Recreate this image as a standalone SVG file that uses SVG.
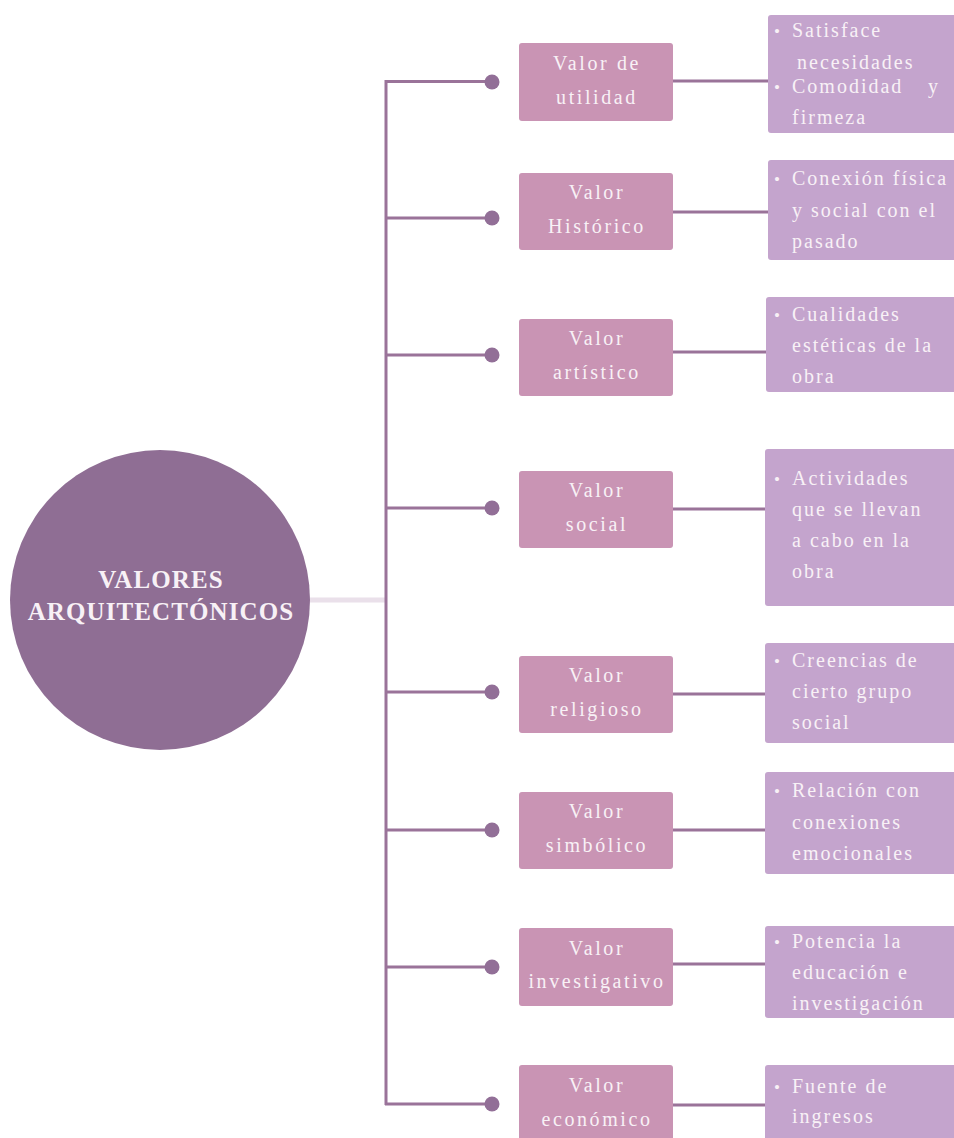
<svg xmlns="http://www.w3.org/2000/svg" width="954" height="1138" viewBox="0 0 954 1138">
<style>
.mid{fill:#c994b4;}
.det{fill:#c4a4cd;}
.ln{stroke:#9a7399;stroke-width:3;fill:none;}
.dot{fill:#926f97;}
.mt{font-family:"Liberation Serif",serif;font-size:20px;fill:#f8f1f6;letter-spacing:2.6px;text-anchor:middle;}
.rt{font-family:"Liberation Serif",serif;font-size:20px;fill:#f8f1f6;letter-spacing:2px;}
.bu{font-family:"Liberation Serif",serif;font-size:17px;fill:#f8f1f6;}
.ct{font-family:"Liberation Serif",serif;font-size:25px;font-weight:bold;fill:#f8f1f6;letter-spacing:1.1px;text-anchor:middle;}
</style>
<rect width="954" height="1138" fill="#ffffff"/>
<g id="connectors">
<line x1="308" y1="600" x2="386" y2="600" stroke="#eae0ea" stroke-width="5"/>
<line class="ln" x1="386" y1="80" x2="386" y2="1105"/>
<line class="ln" x1="385" y1="81.5" x2="492" y2="81.5"/>
<line class="ln" x1="385" y1="218" x2="492" y2="218"/>
<line class="ln" x1="385" y1="355" x2="492" y2="355"/>
<line class="ln" x1="385" y1="508" x2="492" y2="508"/>
<line class="ln" x1="385" y1="692" x2="492" y2="692"/>
<line class="ln" x1="385" y1="830" x2="492" y2="830"/>
<line class="ln" x1="385" y1="967" x2="492" y2="967"/>
<line class="ln" x1="385" y1="1104" x2="492" y2="1104"/>
<circle class="dot" cx="492" cy="82" r="7.5"/>
<circle class="dot" cx="492" cy="218" r="7.5"/>
<circle class="dot" cx="492" cy="355" r="7.5"/>
<circle class="dot" cx="492" cy="508" r="7.5"/>
<circle class="dot" cx="492" cy="692" r="7.5"/>
<circle class="dot" cx="492" cy="830" r="7.5"/>
<circle class="dot" cx="492" cy="967" r="7.5"/>
<circle class="dot" cx="492" cy="1104" r="7.5"/>
<line class="ln" x1="673" y1="81" x2="768" y2="81"/>
<line class="ln" x1="673" y1="212" x2="768" y2="212"/>
<line class="ln" x1="673" y1="352" x2="767" y2="352"/>
<line class="ln" x1="673" y1="509" x2="766" y2="509"/>
<line class="ln" x1="673" y1="694" x2="766" y2="694"/>
<line class="ln" x1="673" y1="830" x2="766" y2="830"/>
<line class="ln" x1="673" y1="964" x2="766" y2="964"/>
<line class="ln" x1="673" y1="1105" x2="766" y2="1105"/>
</g>
<g id="center">
<circle cx="160" cy="600" r="150" fill="#8f6e94"/>
<text class="ct" x="161" y="588">VALORES</text>
<text class="ct" x="161" y="620">ARQUITECTÓNICOS</text>
</g>
<g id="n1">
<rect class="mid" x="519" y="43" width="154" height="78" rx="3"/>
<text class="mt" x="597" y="70">Valor de</text>
<text class="mt" x="597" y="104">utilidad</text>
</g>
<g id="d1">
<rect class="det" x="768" y="15" width="200" height="118" rx="3"/>
<text class="bu" x="774" y="37">•</text>
<text class="rt" x="792" y="37">Satisface</text>
<text class="rt" x="797" y="69">necesidades</text>
<text class="bu" x="774" y="93">•</text>
<text class="rt" x="792" y="93">Comodidad <tspan x="928">y</tspan></text>
<text class="rt" x="792" y="124">firmeza</text>
</g>
<g id="n2">
<rect class="mid" x="519" y="173" width="154" height="77" rx="3"/>
<text class="mt" x="597" y="199">Valor</text>
<text class="mt" x="597" y="233">Histórico</text>
</g>
<g id="d2">
<rect class="det" x="768" y="160" width="200" height="100" rx="3"/>
<text class="bu" x="774" y="185">•</text>
<text class="rt" x="792" y="185">Conexión física</text>
<text class="rt" x="792" y="217">y social con el</text>
<text class="rt" x="792" y="248">pasado</text>
</g>
<g id="n3">
<rect class="mid" x="519" y="319" width="154" height="77" rx="3"/>
<text class="mt" x="597" y="345">Valor</text>
<text class="mt" x="597" y="379">artístico</text>
</g>
<g id="d3">
<rect class="det" x="766" y="297" width="200" height="95" rx="3"/>
<text class="bu" x="774" y="321">•</text>
<text class="rt" x="792" y="321">Cualidades</text>
<text class="rt" x="792" y="352">estéticas de la</text>
<text class="rt" x="792" y="383">obra</text>
</g>
<g id="n4">
<rect class="mid" x="519" y="471" width="154" height="77" rx="3"/>
<text class="mt" x="597" y="497">Valor</text>
<text class="mt" x="597" y="531">social</text>
</g>
<g id="d4">
<rect class="det" x="765" y="449" width="200" height="157" rx="3"/>
<text class="bu" x="774" y="485">•</text>
<text class="rt" x="792" y="485">Actividades</text>
<text class="rt" x="792" y="516">que se llevan</text>
<text class="rt" x="792" y="547">a cabo en la</text>
<text class="rt" x="792" y="578">obra</text>
</g>
<g id="n5">
<rect class="mid" x="519" y="656" width="154" height="77" rx="3"/>
<text class="mt" x="597" y="682">Valor</text>
<text class="mt" x="597" y="716">religioso</text>
</g>
<g id="d5">
<rect class="det" x="765" y="643" width="200" height="100" rx="3"/>
<text class="bu" x="774" y="667">•</text>
<text class="rt" x="792" y="667">Creencias de</text>
<text class="rt" x="792" y="698">cierto grupo</text>
<text class="rt" x="792" y="729">social</text>
</g>
<g id="n6">
<rect class="mid" x="519" y="792" width="154" height="77" rx="3"/>
<text class="mt" x="597" y="818">Valor</text>
<text class="mt" x="597" y="852">simbólico</text>
</g>
<g id="d6">
<rect class="det" x="765" y="772" width="200" height="102" rx="3"/>
<text class="bu" x="774" y="797">•</text>
<text class="rt" x="792" y="797">Relación con</text>
<text class="rt" x="792" y="829">conexiones</text>
<text class="rt" x="792" y="860">emocionales</text>
</g>
<g id="n7">
<rect class="mid" x="519" y="928" width="154" height="78" rx="3"/>
<text class="mt" x="597" y="955">Valor</text>
<text class="mt" x="597" y="988">investigativo</text>
</g>
<g id="d7">
<rect class="det" x="765" y="926" width="200" height="92" rx="3"/>
<text class="bu" x="774" y="948">•</text>
<text class="rt" x="792" y="948">Potencia la</text>
<text class="rt" x="792" y="979">educación e</text>
<text class="rt" x="792" y="1010">investigación</text>
</g>
<g id="n8">
<rect class="mid" x="519" y="1065" width="154" height="90" rx="3"/>
<text class="mt" x="597" y="1092">Valor</text>
<text class="mt" x="597" y="1126">económico</text>
</g>
<g id="d8">
<rect class="det" x="765" y="1065" width="200" height="90" rx="3"/>
<text class="bu" x="774" y="1093">•</text>
<text class="rt" x="792" y="1093">Fuente de</text>
<text class="rt" x="792" y="1123">ingresos</text>
</g>
</svg>
